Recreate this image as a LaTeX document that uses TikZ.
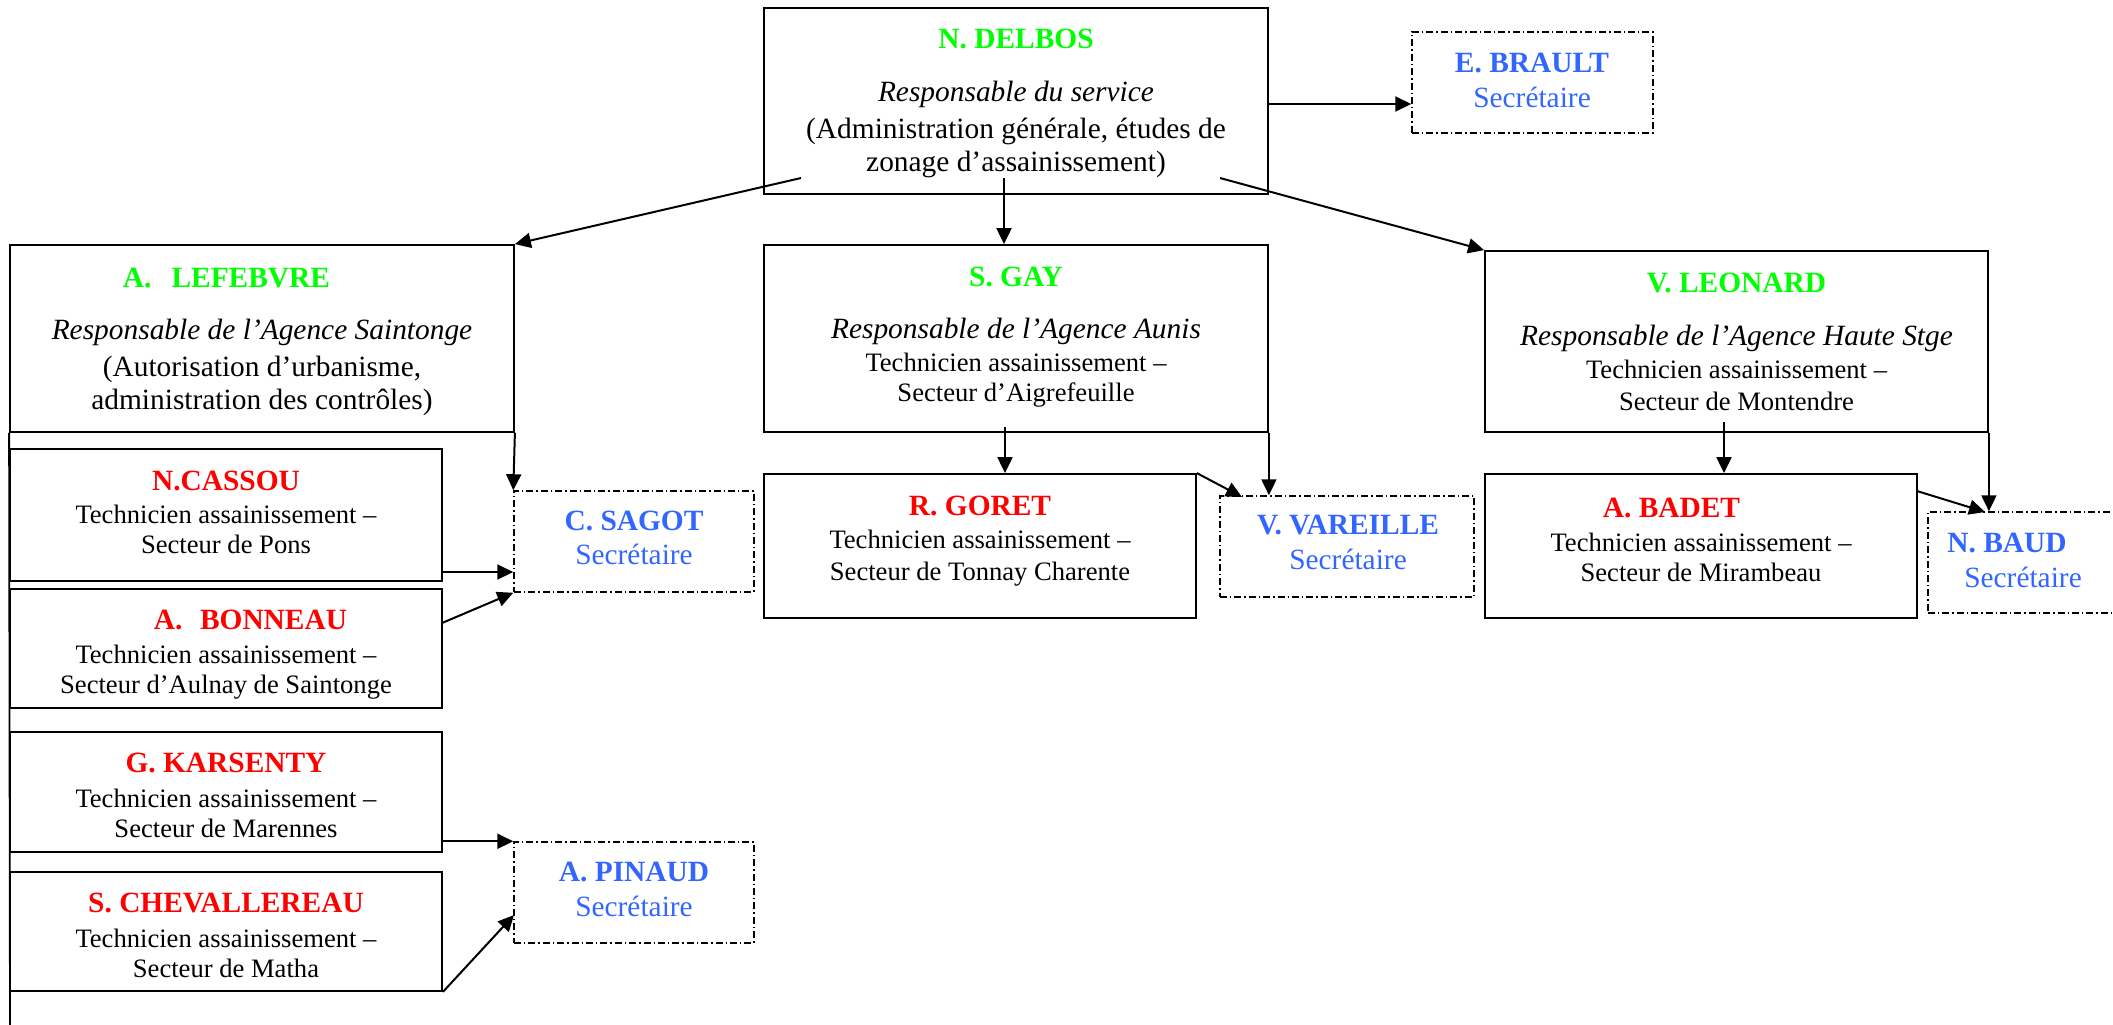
\documentclass[tikz,border=0pt]{standalone}
\usepackage{fontspec}
\setmainfont{Liberation Serif}
\usetikzlibrary{arrows.meta,fit}
\definecolor{mgrgreen}{HTML}{00FF00}
\definecolor{techred}{HTML}{FF0000}
\definecolor{secblue}{HTML}{3366FF}
\newcommand\BigTxt{\fontsize{14.7}{15}\selectfont}
\newcommand\nameG[1]{{\BigTxt\bfseries\color{mgrgreen}#1}}
\newcommand\nameR[1]{{\BigTxt\bfseries\color{techred}#1}}
\newcommand\nameB[1]{{\BigTxt\bfseries\color{secblue}#1}}
\newcommand\secr{{\BigTxt\color{secblue}Secrétaire}}
\begin{document}
\begin{tikzpicture}[x=0.5pt,y=-0.5pt,
  box/.style={draw, line width=0.9pt, inner sep=0pt},
  secbox/.style={draw, line width=0.75pt, dash pattern=on 3.5pt off 1.5pt on 0.7pt off 1.5pt, inner sep=0pt},
  txt/.style={align=center, inner sep=0pt, font=\fontsize{13.3}{15}\selectfont},
  conn/.style={line width=1pt, -{Triangle[length=8pt,width=7.5pt]}}]
\useasboundingbox (0,0) rectangle (2113,1024);
\fill[white] (0,0) rectangle (2113,1024);
\clip (0,0) rectangle (2113,1024);

% boxes
\node[box, fit={(764,8) (1268,194)}] (delbos) {};
\node[secbox, fit={(1412,32) (1653,133)}] (brault) {};
\node[box, fit={(10,245) (514,432)}] (lefebvre) {};
\node[box, fit={(764,245) (1268,432)}] (gay) {};
\node[box, fit={(1485,251) (1988,432)}] (leonard) {};
\node[box, fit={(10,449) (442,581)}] (cassou) {};
\node[box, fit={(10,589) (442,708)}] (bonneau) {};
\node[box, fit={(10,732) (442,852)}] (karsenty) {};
\node[box, fit={(10,872) (442,991)}] (cheval) {};
\node[secbox, fit={(514,491) (754,592)}] (sagot) {};
\node[secbox, fit={(514,842) (754,943)}] (pinaud) {};
\node[box, fit={(764,474) (1196,618)}] (goret) {};
\node[secbox, fit={(1220,496) (1474,597)}] (vareille) {};
\node[box, fit={(1485,474) (1917,618)}] (badet) {};
\node[secbox, fit={(1928,512) (2170,613)}] (nbaud) {};

% texts
\node[txt] (delbosT) at (1016,103.5) {\nameG{N. DELBOS}\\[11.5pt]
  {\BigTxt\itshape Responsable du service}\\[3.5pt]
  {\BigTxt (Administration générale, études de}\\[1.5pt]
  {\BigTxt zonage d’assainissement)}};
\node[txt] (braultT) at (1532,80.5) {\nameB{E. BRAULT}\\[2.5pt] \secr};
\node[txt] (lefebvreT) at (262,341.5) {\hspace*{-35.5pt}\nameG{A.\hspace{10pt}LEFEBVRE}\\[11pt]
  {\BigTxt\itshape Responsable de l’Agence Saintonge}\\[3.5pt]
  {\BigTxt (Autorisation d’urbanisme,}\\[1.5pt]
  {\BigTxt administration des contrôles)}};
\node[txt] (gayT) at (1016,337.5) {\nameG{S. GAY}\\[11pt]
  {\BigTxt\itshape Responsable de l’Agence Aunis}\\[1.5pt]
  Technicien assainissement –\\
  Secteur d’Aigrefeuille};
\node[txt] (leonardT) at (1736.5,342) {\nameG{V. LEONARD}\\[11.5pt]
  {\BigTxt\itshape Responsable de l’Agence Haute Stge}\\[1.5pt]
  Technicien assainissement –\\[1pt]
  Secteur de Montendre};
\node[txt] (cassouT) at (226,512) {\nameR{N.CASSOU}\\[1.5pt]
  Technicien assainissement –\\ Secteur de Pons};
\node[txt] (bonneauT) at (226,654.5) {\hspace*{24.5pt}\nameR{A.\hspace{8.75pt}BONNEAU}\\[2pt]
  Technicien assainissement –\\ Secteur d’Aulnay de Saintonge};
\node[txt] (karsentyT) at (226,795.5) {\nameR{G. KARSENTY}\\[2.5pt]
  Technicien assainissement –\\ Secteur de Marennes};
\node[txt] (chevalT) at (226,935) {\nameR{S. CHEVALLEREAU}\\[2.5pt]
  Technicien assainissement –\\ Secteur de Matha};
\node[txt] (goretT) at (980,541) {\nameR{R. GORET}\\[1.5pt]
  Technicien assainissement –\\[1pt] Secteur de Tonnay Charente};
\node[txt] (badetT) at (1701,539.5) {\hspace*{-29.5pt}\nameR{A. BADET}\\[2pt]
  Technicien assainissement –\\ Secteur de Mirambeau};
\node[txt] (sagotT) at (634,537.5) {\nameB{C. SAGOT}\\[2pt] \secr};
\node[txt] (pinaudT) at (634,889.5) {\nameB{A. PINAUD}\\[2.5pt] \secr};
\node[txt] (vareilleT) at (1348,542.5) {\nameB{V. VAREILLE}\\[2.5pt] \secr};
\node[txt] (nbaudT) at (2015,560) {\hspace*{-8pt}\nameB{N. BAUD}\\[2.5pt] \hspace*{8pt}\secr};

% connector end points
\coordinate (dB) at (1268,104);
\coordinate (dL) at (801,178);
\coordinate (dG) at (1004,178);
\coordinate (dV) at (1220,178);
\coordinate (cS) at (442,572);
\coordinate (bS) at (442,623);
\coordinate (pC) at (514,915);
\coordinate (gG) at (1005,427);
\coordinate (gV) at (1242,497);
\coordinate (lB) at (1724,422);
\coordinate (bN) at (1917,491);
\coordinate (bN2) at (1985,512);
\coordinate (leftEnd) at (10,1030);

% connectors
\draw[conn] (dB) -- (dB -| brault.west);
\draw[conn] (dL) -- (lefebvre.north east);
\draw[conn] (dG) -- (dG |- gay.north);
\draw[conn] (dV) -- (leonard.north west);
\draw[conn] (lefebvre.south east) -- (sagot.north west);
\draw[conn] (cS) -- (cS -| sagot.west);
\draw[conn] (bS) -- (sagot.south west);
\draw[conn] (karsenty.east |- pinaud.north) -- (pinaud.north west);
\draw[conn] (cheval.south east) -- (pC);
\draw[conn] (gG) -- (gG |- goret.north);
\draw[conn] (gay.south east) -- (gay.south east |- vareille.north);
\draw[conn] (goret.north east) -- (gV);
\draw[conn] (lB) -- (lB |- badet.north);
\draw[conn] (leonard.south east) -- (leonard.south east |- nbaud.north);
\draw[conn] (bN) -- (bN2);
\draw[line width=0.9pt] (lefebvre.south west) -- (leftEnd);
\end{tikzpicture}
\end{document}
